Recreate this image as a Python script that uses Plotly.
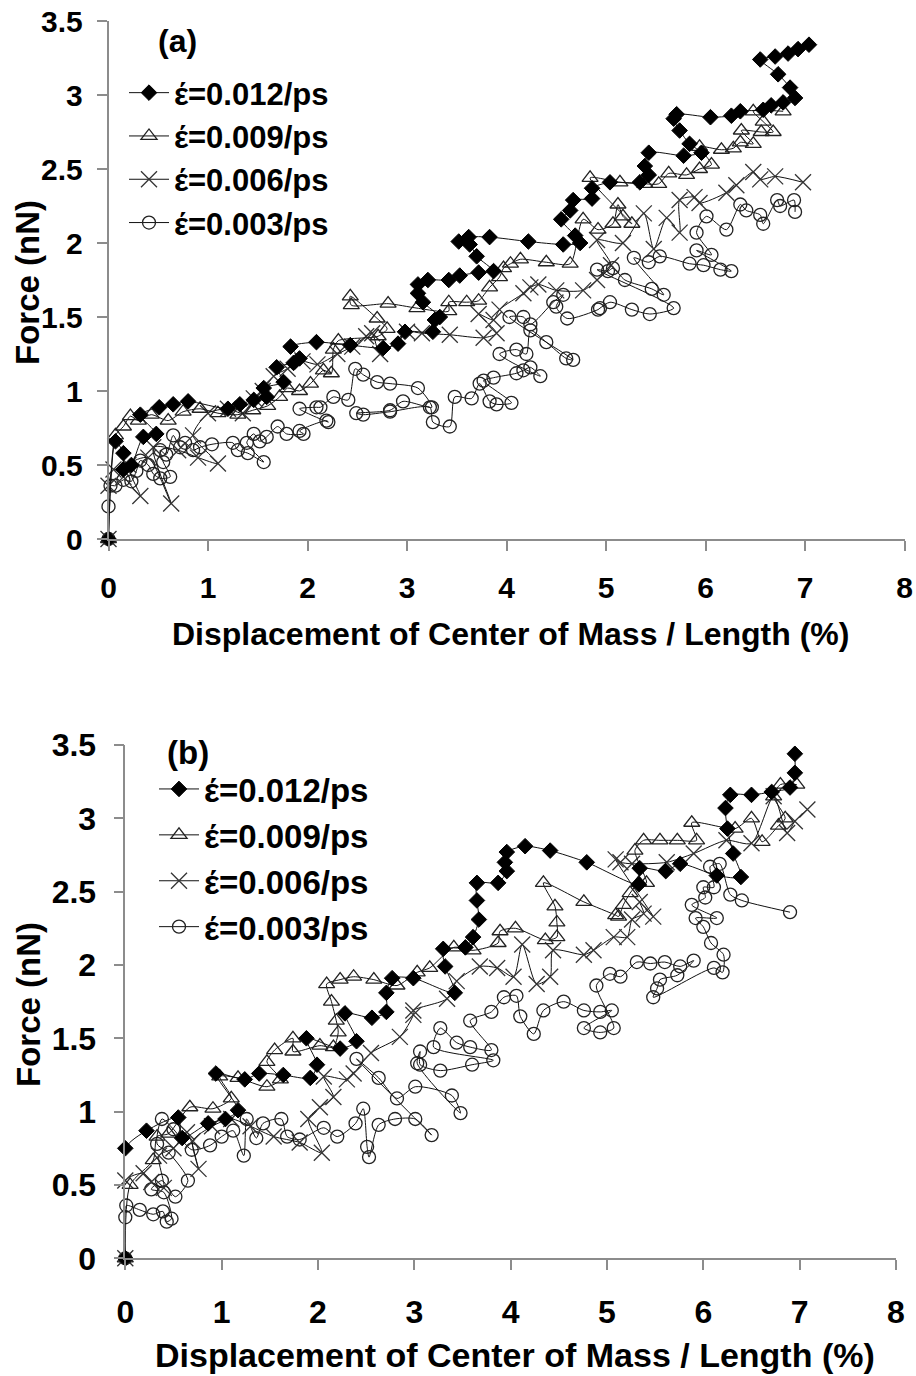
import plotly.graph_objects as go

W, H = 916, 1376

# ---------------- Panel (a) data ----------------
a012_x = [0, 0.07, 0.15, 0.15, 0.23, 0.35, 0.48, 0.32, 0.51, 0.65, 0.80, 1.20, 1.32, 1.46, 1.59, 1.56, 1.76, 1.69, 1.86, 1.92, 1.83, 2.09, 2.43, 2.76, 2.91, 2.98, 3.26, 3.28, 3.33, 3.16, 3.11, 3.11, 3.21, 3.42, 3.53, 3.72, 3.87, 3.70, 3.63, 3.52, 3.62, 3.83, 4.22, 4.57, 4.74, 4.69, 4.55, 4.64, 4.67, 4.86, 4.86, 5.04, 5.34, 5.43, 5.39, 5.43, 5.78, 5.96, 5.84, 5.74, 5.68, 5.71, 6.05, 6.26, 6.35, 6.58, 6.66, 6.78, 6.90, 6.85, 6.73, 6.55, 6.70, 6.83, 6.93, 7.04]
a012_y = [0, 0.66, 0.58, 0.47, 0.50, 0.69, 0.71, 0.84, 0.89, 0.91, 0.93, 0.88, 0.91, 0.94, 0.96, 1.02, 1.06, 1.16, 1.19, 1.22, 1.30, 1.33, 1.31, 1.29, 1.32, 1.40, 1.40, 1.48, 1.50, 1.60, 1.66, 1.72, 1.75, 1.75, 1.78, 1.80, 1.81, 1.91, 1.99, 2.01, 2.04, 2.04, 2.01, 1.99, 2.00, 2.05, 2.16, 2.22, 2.29, 2.30, 2.37, 2.41, 2.41, 2.46, 2.52, 2.61, 2.59, 2.61, 2.67, 2.76, 2.84, 2.87, 2.85, 2.86, 2.89, 2.90, 2.93, 2.95, 2.98, 3.05, 3.14, 3.24, 3.26, 3.28, 3.31, 3.34]

a009_x = [0, 0.07, 0.15, 0.22, 0.30, 0.43, 0.60, 0.75, 0.92, 1.10, 1.30, 1.45, 1.60, 1.72, 1.80, 1.92, 2.03, 2.16, 2.24, 2.26, 2.31, 2.71, 2.80, 2.70, 2.43, 2.44, 2.81, 3.10, 3.42, 3.42, 3.60, 3.72, 3.83, 3.93, 3.97, 4.04, 4.14, 4.40, 4.64, 4.77, 4.92, 5.07, 5.12, 5.17, 5.26, 4.84, 5.14, 5.39, 5.53, 5.63, 5.81, 5.94, 6.06, 5.94, 6.16, 6.28, 6.35, 6.48, 6.36, 6.56, 6.68, 6.58, 6.48, 6.78]
a009_y = [0, 0.70, 0.76, 0.83, 0.80, 0.84, 0.80, 0.86, 0.88, 0.85, 0.84, 0.87, 0.90, 0.96, 1.02, 1.00, 1.05, 1.14, 1.12, 1.28, 1.34, 1.37, 1.42, 1.49, 1.64, 1.58, 1.59, 1.56, 1.54, 1.60, 1.60, 1.61, 1.70, 1.77, 1.83, 1.86, 1.89, 1.87, 1.86, 2.16, 2.09, 2.13, 2.26, 2.18, 2.13, 2.44, 2.41, 2.40, 2.40, 2.47, 2.46, 2.50, 2.53, 2.65, 2.63, 2.64, 2.68, 2.67, 2.76, 2.75, 2.75, 2.82, 2.89, 2.89]

a006_x = [0, 0.0, 0.05, 0.15, 0.32, 0.20, 0.40, 0.63, 0.45, 0.70, 0.90, 1.10, 0.85, 1.00, 1.20, 1.35, 1.46, 1.55, 1.66, 1.80, 1.95, 2.10, 2.30, 2.45, 2.59, 2.65, 2.73, 3.00, 3.15, 3.43, 3.77, 3.90, 3.72, 3.87, 3.93, 4.17, 4.24, 4.32, 4.50, 4.77, 4.91, 5.05, 4.91, 5.17, 5.38, 5.48, 5.61, 5.74, 5.74, 5.89, 5.94, 6.21, 6.31, 6.48, 6.55, 6.70, 6.98]
a006_y = [0, 0.36, 0.47, 0.42, 0.29, 0.50, 0.55, 0.24, 0.62, 0.60, 0.55, 0.51, 0.70, 0.85, 0.88, 0.85, 0.95, 1.00, 1.10, 1.15, 1.20, 1.18, 1.25, 1.30, 1.37, 1.39, 1.25, 1.40, 1.39, 1.38, 1.36, 1.39, 1.52, 1.48, 1.55, 1.66, 1.70, 1.72, 1.68, 1.68, 1.75, 1.85, 2.02, 2.00, 2.20, 1.96, 2.17, 2.07, 2.29, 2.31, 2.27, 2.34, 2.39, 2.48, 2.43, 2.45, 2.41]

a003_x = [0, 0.0, 0.02, 0.07, 0.15, 0.23, 0.28, 0.32, 0.40, 0.45, 0.52, 0.62, 0.55, 0.52, 0.58, 0.65, 0.72, 0.77, 0.85, 0.92, 1.04, 1.25, 1.30, 1.40, 1.56, 1.39, 1.46, 1.52, 1.59, 1.70, 1.79, 1.96, 1.92, 2.19, 2.21, 1.92, 2.09, 2.13, 2.26, 2.41, 2.48, 2.56, 2.70, 2.83, 3.11, 3.25, 2.96, 2.83, 2.49, 2.56, 2.83, 3.23, 3.26, 3.43, 3.48, 3.65, 3.73, 3.83, 3.90, 4.05, 3.77, 3.87, 4.10, 4.17, 4.24, 4.34, 3.93, 4.10, 4.20, 4.24, 4.40, 4.60, 4.67, 4.03, 4.17, 4.24, 4.47, 4.57, 4.50, 4.61, 4.92, 4.94, 5.04, 5.26, 5.44, 5.68, 4.91, 5.02, 5.07, 5.19, 5.46, 5.58, 5.28, 5.43, 5.54, 5.84, 5.98, 6.15, 6.26, 5.91, 6.06, 5.91, 6.01, 6.21, 6.35, 6.41, 6.55, 6.58, 6.72, 6.75, 6.89, 6.90]
a003_y = [0, 0.22, 0.36, 0.36, 0.40, 0.39, 0.46, 0.53, 0.50, 0.44, 0.41, 0.42, 0.52, 0.60, 0.57, 0.70, 0.62, 0.65, 0.60, 0.62, 0.64, 0.65, 0.60, 0.58, 0.52, 0.65, 0.71, 0.66, 0.69, 0.76, 0.71, 0.71, 0.73, 0.80, 0.79, 0.88, 0.89, 0.89, 0.96, 0.94, 1.15, 1.11, 1.06, 1.05, 1.02, 0.89, 0.93, 0.87, 0.85, 0.84, 0.86, 0.89, 0.79, 0.76, 0.96, 0.95, 1.05, 0.93, 0.91, 0.92, 1.07, 1.09, 1.12, 1.14, 1.16, 1.10, 1.25, 1.28, 1.25, 1.41, 1.33, 1.22, 1.21, 1.50, 1.50, 1.45, 1.60, 1.65, 1.57, 1.49, 1.55, 1.56, 1.60, 1.55, 1.52, 1.56, 1.82, 1.81, 1.83, 1.75, 1.69, 1.65, 1.90, 1.87, 1.91, 1.86, 1.85, 1.82, 1.81, 1.95, 1.92, 2.07, 2.18, 2.09, 2.26, 2.22, 2.19, 2.13, 2.29, 2.25, 2.29, 2.21]

# ---------------- Panel (b) data ----------------
b012_x = [0, 0.0, 0.22, 0.55, 0.59, 0.86, 1.04, 1.17, 0.94, 1.24, 1.39, 1.64, 1.92, 1.99, 1.88, 2.23, 2.40, 2.28, 2.56, 2.71, 2.71, 2.77, 2.99, 3.42, 3.32, 3.30, 3.53, 3.61, 3.67, 3.65, 3.65, 3.87, 3.96, 3.94, 3.96, 4.15, 4.41, 4.79, 5.33, 5.34, 5.61, 5.76, 6.14, 6.39, 6.31, 6.25, 6.23, 6.28, 6.50, 6.71, 6.90, 6.95, 6.95]
b012_y = [0, 0.75, 0.87, 0.96, 0.82, 0.92, 0.95, 1.01, 1.26, 1.22, 1.26, 1.25, 1.23, 1.32, 1.50, 1.43, 1.48, 1.67, 1.64, 1.68, 1.81, 1.91, 1.91, 1.81, 1.99, 2.11, 2.12, 2.19, 2.31, 2.44, 2.56, 2.56, 2.64, 2.70, 2.77, 2.81, 2.78, 2.70, 2.55, 2.66, 2.64, 2.69, 2.61, 2.60, 2.76, 2.93, 3.07, 3.16, 3.16, 3.18, 3.21, 3.31, 3.44]

b009_x = [0, 0.05, 0.29, 0.33, 0.45, 0.67, 0.91, 1.10, 0.98, 1.17, 1.47, 1.61, 1.47, 1.55, 1.74, 1.74, 2.02, 2.16, 2.21, 2.19, 2.14, 2.09, 2.23, 2.37, 2.58, 2.82, 3.03, 3.16, 3.41, 3.61, 3.87, 3.89, 4.05, 4.36, 4.48, 4.48, 4.46, 4.34, 4.76, 5.09, 5.12, 5.17, 5.24, 5.33, 5.41, 5.29, 5.38, 5.55, 5.73, 5.93, 5.88, 6.33, 6.50, 6.61, 6.78, 6.85, 6.73, 6.80, 6.97]
b009_y = [0, 0.50, 0.67, 0.83, 0.85, 1.03, 1.02, 1.09, 1.24, 1.23, 1.17, 1.22, 1.34, 1.42, 1.50, 1.41, 1.45, 1.44, 1.54, 1.62, 1.75, 1.87, 1.90, 1.92, 1.90, 1.86, 1.95, 1.98, 2.12, 2.10, 2.15, 2.23, 2.25, 2.17, 2.19, 2.29, 2.40, 2.56, 2.43, 2.34, 2.33, 2.41, 2.49, 2.56, 2.56, 2.78, 2.85, 2.85, 2.85, 2.85, 2.97, 2.93, 3.00, 2.84, 2.95, 3.00, 3.15, 3.23, 3.23]

b006_x = [0, 0.0, 0.19, 0.27, 0.40, 0.35, 0.50, 0.64, 0.76, 0.70, 0.90, 1.10, 1.30, 1.54, 1.81, 2.04, 1.90, 2.02, 2.16, 2.06, 2.30, 2.37, 2.55, 2.85, 2.99, 2.99, 3.34, 3.44, 3.68, 3.86, 4.03, 4.12, 4.27, 4.41, 4.44, 4.76, 4.86, 5.07, 5.21, 5.26, 5.38, 5.34, 5.48, 5.09, 5.14, 5.26, 5.62, 5.90, 6.24, 6.50, 6.73, 6.87, 6.95, 7.08]
b006_y = [0, 0.53, 0.58, 0.52, 0.48, 0.70, 0.75, 0.86, 0.61, 0.80, 0.90, 0.95, 0.90, 0.83, 0.79, 0.72, 0.95, 1.03, 1.10, 1.24, 1.22, 1.26, 1.40, 1.51, 1.66, 1.69, 1.77, 1.89, 1.99, 1.98, 1.92, 2.14, 1.87, 1.92, 2.10, 2.07, 2.10, 2.19, 2.19, 2.31, 2.35, 2.43, 2.33, 2.72, 2.70, 2.69, 2.70, 2.76, 2.85, 2.83, 3.15, 2.90, 2.98, 3.06]

b003_x = [0, 0.0, 0.01, 0.15, 0.29, 0.39, 0.43, 0.48, 0.40, 0.27, 0.38, 0.52, 0.65, 0.45, 0.33, 0.38, 0.50, 0.69, 0.88, 1.00, 1.12, 1.23, 1.26, 1.36, 1.43, 1.62, 1.68, 1.81, 2.06, 2.20, 2.39, 2.47, 2.51, 2.53, 2.63, 2.80, 3.01, 3.18, 2.40, 2.63, 2.82, 3.01, 3.39, 3.48, 3.03, 3.06, 3.06, 3.27, 3.60, 3.82, 3.20, 3.27, 3.44, 3.58, 3.80, 3.58, 3.80, 3.93, 4.06, 4.10, 4.24, 4.34, 4.55, 4.76, 4.93, 5.05, 4.76, 4.93, 5.07, 4.89, 5.03, 5.14, 5.31, 5.45, 5.60, 5.76, 5.90, 5.73, 5.55, 5.52, 5.48, 6.11, 6.20, 6.21, 6.08, 6.00, 5.92, 6.14, 5.88, 6.02, 6.00, 6.11, 6.07, 6.17, 6.28, 6.40, 6.90]
b003_y = [0, 0.28, 0.36, 0.33, 0.30, 0.32, 0.25, 0.27, 0.45, 0.47, 0.53, 0.42, 0.53, 0.72, 0.78, 0.95, 0.88, 0.74, 0.77, 0.83, 0.87, 0.70, 0.95, 0.82, 0.92, 0.95, 0.83, 0.81, 0.89, 0.83, 0.92, 1.02, 0.76, 0.69, 0.91, 0.95, 0.95, 0.84, 1.36, 1.23, 1.09, 1.17, 1.11, 0.99, 1.33, 1.41, 1.32, 1.28, 1.32, 1.35, 1.44, 1.57, 1.47, 1.44, 1.42, 1.62, 1.68, 1.78, 1.79, 1.65, 1.53, 1.69, 1.75, 1.69, 1.68, 1.69, 1.57, 1.54, 1.57, 1.86, 1.94, 1.92, 2.02, 2.01, 2.02, 1.99, 2.03, 1.93, 1.90, 1.84, 1.78, 1.98, 1.95, 2.07, 2.15, 2.26, 2.32, 2.32, 2.41, 2.46, 2.53, 2.53, 2.67, 2.69, 2.48, 2.44, 2.36]

legend_names = ["έ=0.012/ps", "έ=0.009/ps", "έ=0.006/ps", "έ=0.003/ps"]
x_ticks = [0, 1, 2, 3, 4, 5, 6, 7, 8]
y_ticks = [0, 0.5, 1, 1.5, 2, 2.5, 3, 3.5]
y_tick_text = ["0", "0.5", "1", "1.5", "2", "2.5", "3", "3.5"]
x_title = "Displacement of Center of Mass / Length (%)"
y_title = "Force (nN)"

FONT = "Liberation Sans, Arial, sans-serif"

styles = [
    dict(symbol="diamond", size=12, color="black", line=dict(color="black", width=1)),
    dict(symbol="triangle-up-open", size=14, color="#222", line=dict(color="#222", width=1.3)),
    dict(symbol="x-thin-open", size=16, color="#333", line=dict(color="#333", width=1.3)),
    dict(symbol="circle-open", size=13, color="#222", line=dict(color="#222", width=1.3)),
]

fig = go.Figure()

panel_a = [(a012_x, a012_y), (a009_x, a009_y), (a006_x, a006_y), (a003_x, a003_y)]
panel_b = [(b012_x, b012_y), (b009_x, b009_y), (b006_x, b006_y), (b003_x, b003_y)]

order = [3, 2, 1, 0]  # diamonds drawn last (on top); legend order set by rank
for i in order:
    xs, ys = panel_a[i]
    fig.add_trace(go.Scatter(
        x=xs, y=ys, mode="lines+markers", name=legend_names[i],
        line=dict(color="#111", width=1, shape="spline", smoothing=0.7),
        marker=styles[i], xaxis="x", yaxis="y", cliponaxis=False,
        legend="legend", legendrank=i + 1))
for i in order:
    xs, ys = panel_b[i]
    fig.add_trace(go.Scatter(
        x=xs, y=ys, mode="lines+markers", name=legend_names[i],
        line=dict(color="#111", width=1, shape="spline", smoothing=0.7),
        marker=styles[i], xaxis="x2", yaxis="y2", cliponaxis=False,
        legend="legend2", legendrank=i + 1))

def px(x):
    return x / W

def py(y):
    return 1 - y / H

def axis_common(size):
    return dict(showline=True, linecolor="#8c8c8c", linewidth=1.5, ticks="outside",
                ticklen=10, tickwidth=1.5, tickcolor="#8c8c8c", showgrid=False,
                zeroline=False, automargin=False,
                tickfont=dict(family=FONT, size=size, color="black", weight="bold"),
                fixedrange=True)

xa = axis_common(30)
xa.update(domain=[px(108.5), px(904.5)], range=[0, 8], tickvals=x_ticks, anchor="y", ticklabelstandoff=11)
ya = axis_common(30)
ya.update(domain=[py(539), py(21)], range=[0, 3.5], tickvals=y_ticks, ticktext=y_tick_text, anchor="x", ticklabelstandoff=8)
xb = axis_common(32)
xb.update(domain=[px(125.3), px(896)], range=[0, 8], tickvals=x_ticks, anchor="y2", ticklabelstandoff=15)
yb = axis_common(32)
yb.update(domain=[py(1258.3), py(745)], range=[0, 3.5], tickvals=y_ticks, ticktext=y_tick_text, anchor="x2", ticklabelstandoff=11)

legend_a = dict(x=px(124), y=py(66), xanchor="left", yanchor="top", bgcolor="rgba(0,0,0,0)",
                font=dict(family=FONT, size=31, color="black", weight="bold"),
                tracegroupgap=0, itemwidth=40)
legend_b = dict(x=px(154), y=py(761), xanchor="left", yanchor="top", bgcolor="rgba(0,0,0,0)",
                font=dict(family=FONT, size=33, color="black", weight="bold"),
                tracegroupgap=0, itemwidth=40)

def ann(text, x, y, size, angle=0):
    return dict(text="<b>%s</b>" % text, x=px(x), y=py(y), xref="paper", yref="paper",
                xanchor="center", yanchor="middle", showarrow=False, textangle=angle,
                font=dict(family=FONT, size=size, color="black"))

annotations = [
    ann("(a)", 177, 41, 32),
    ann("(b)", 188, 752, 33),
    ann(x_title, 510, 634, 32),
    ann(x_title, 515, 1355, 34),
    ann(y_title, 28, 283, 33, -90),
    ann(y_title, 28, 1005, 33, -90),
]

fig.update_layout(
    template="none",
    width=W, height=H, autosize=False,
    margin=dict(l=0, r=0, t=0, b=0, pad=0),
    paper_bgcolor="white", plot_bgcolor="white",
    xaxis=xa, yaxis=ya, xaxis2=xb, yaxis2=yb,
    legend=legend_a, legend2=legend_b,
    annotations=annotations,
    showlegend=True,
)

fig.write_html("out.html")
